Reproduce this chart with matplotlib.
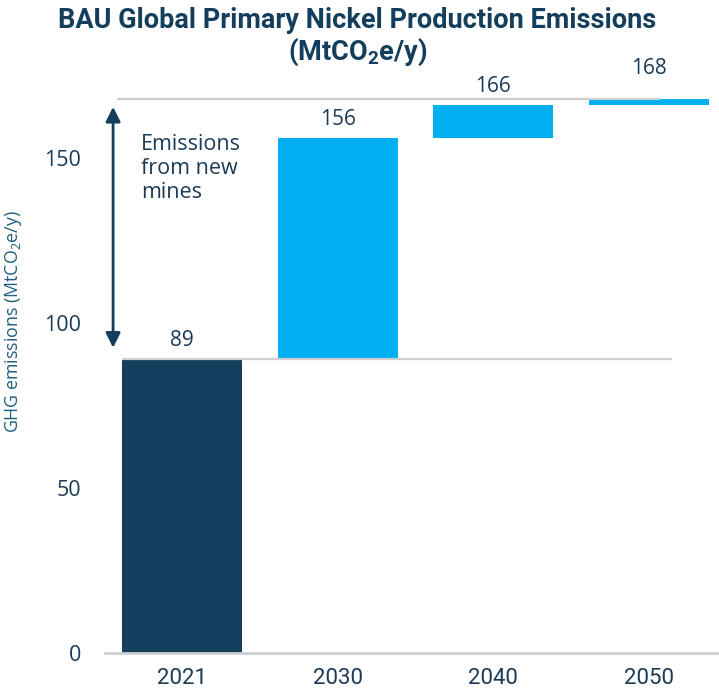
import matplotlib
matplotlib.use("Agg")
import matplotlib.pyplot as plt

# waterfall data (MtCO2e/y)
years = ["2021", "2030", "2040", "2050"]
totals = [89, 156, 166, 168]
yticks = [0, 50, 100, 150]

NAVY = "#133f5c"
CYAN = "#00b0f0"
TEXT = "#1b3a57"
GREY = "#cfcfcf"
NARROW = ["Liberation Sans Narrow", "Roboto", "DejaVu Sans"]
BODY = ["Open Sans", "DejaVu Sans"]

# math parts take the font of the text they sit in
plt.rcParams["mathtext.default"] = "regular"

fig = plt.figure(figsize=(7.19, 6.95), dpi=100)
W, H = 719, 695
ax = fig.add_axes([105 / W, (H - 653) / H, (W - 105) / W, (653 - 75.5) / H])

x = list(range(len(years)))
bottoms = [0] + totals[:-1]
heights = [t - b for t, b in zip(totals, bottoms)]
colors = [NAVY] + [CYAN] * (len(years) - 1)
ax.bar(x, heights, bottom=bottoms, width=0.77, color=colors, zorder=2)

# reference lines at the 2021 level and the 2050 level
ax.hlines(totals[0], -0.385, 3.15, color=GREY, lw=1.6, zorder=3)
ax.hlines(totals[-1], -0.42, 3.07, color=GREY, lw=1.6, zorder=3)

for i, t in enumerate(totals):
    dy = 14 if i == len(totals) - 1 else 6
    ax.annotate(str(t), (x[i], t), xytext=(0, dy), textcoords="offset points",
                ha="center", va="bottom", fontsize=15, color=TEXT, family=BODY)

# double arrow spanning the growth from new mines
ax.annotate("", xy=(-0.443, 165.5), xytext=(-0.443, 92.5),
            arrowprops=dict(arrowstyle="<|-|>", color=NAVY, lw=2,
                            mutation_scale=22, shrinkA=0, shrinkB=0))
ax.text(-0.263, 157.3, "Emissions\nfrom new\nmines", ha="left", va="top",
        fontsize=15.5, color=TEXT, family=BODY, linespacing=1.2)

ax.set_xlim(-0.495, 3.45)
ax.set_ylim(0, 175)
ax.set_xticks(x)
ax.set_xticklabels(years, family=NARROW, fontsize=16, color=TEXT)
ax.set_yticks(yticks)
ax.set_yticklabels([str(v) for v in yticks], family=BODY, fontsize=15.5, color=TEXT)
ax.tick_params(axis="x", length=0, pad=11)
ax.tick_params(axis="y", length=0, pad=17)

for side in ["left", "right", "top"]:
    ax.spines[side].set_visible(False)
ax.spines["bottom"].set_color(GREY)
ax.spines["bottom"].set_linewidth(2)

ax.set_ylabel("GHG emissions (MtCO$_2$e/y)", family=BODY, fontsize=12.8, color="#1f5f80")
ax.yaxis.set_label_coords(-0.132, 0.573)

fig.text(0.497, 0.99, "BAU Global Primary Nickel Production Emissions",
         ha="center", va="top", fontsize=19.5, fontweight="bold", color=NAVY, family=NARROW)
fig.text(0.497, 0.947, "(MtCO$_2$e/y)",
         ha="center", va="top", fontsize=19.5, fontweight="bold", color=NAVY, family=NARROW)

fig.savefig("out.png", dpi=100)
